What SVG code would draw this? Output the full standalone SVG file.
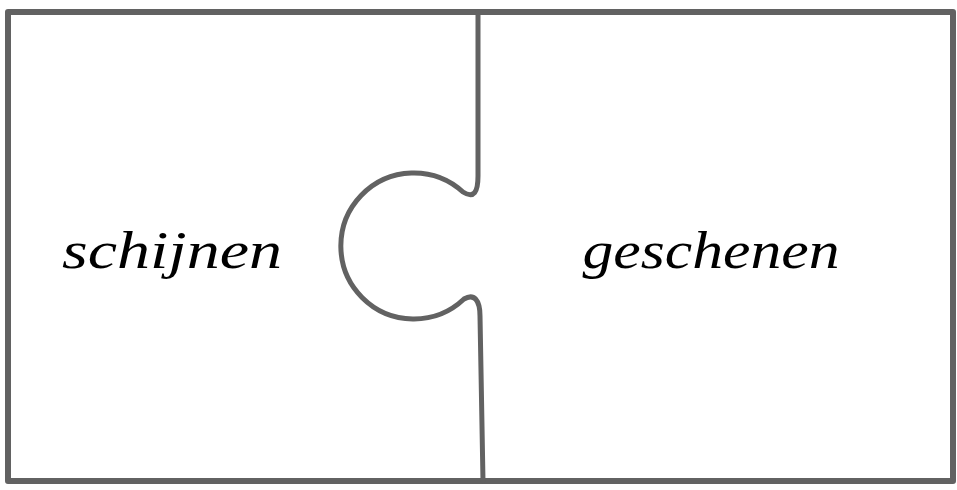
<svg xmlns="http://www.w3.org/2000/svg" width="957" height="490" viewBox="0 0 957 490">
<style>
.edge{fill:none;stroke:#626262;stroke-linejoin:round;stroke-linecap:round}
.lbl{font-family:"Liberation Serif","DejaVu Serif",serif;font-style:italic;font-size:52px;fill:#000}
</style>
<rect width="957" height="490" fill="#ffffff"/>
<g id="frame">
<rect class="edge" x="8" y="12" width="945" height="469" fill="#fcfcfc" stroke-width="6"/>
</g>
<g id="connectors">
<path class="edge" stroke-width="5" d="M478 12 L478 176 C478 192 474 199 463 192 A73 73 0 1 0 464 299 C474 293 480 300 480 316 L483 481"/>
</g>
<g id="piece-left">
<text class="lbl" x="172" y="268" text-anchor="middle" textLength="220" lengthAdjust="spacingAndGlyphs">schijnen</text>
</g>
<g id="piece-right">
<text class="lbl" x="711" y="268" text-anchor="middle" textLength="257" lengthAdjust="spacingAndGlyphs">geschenen</text>
</g>
</svg>
